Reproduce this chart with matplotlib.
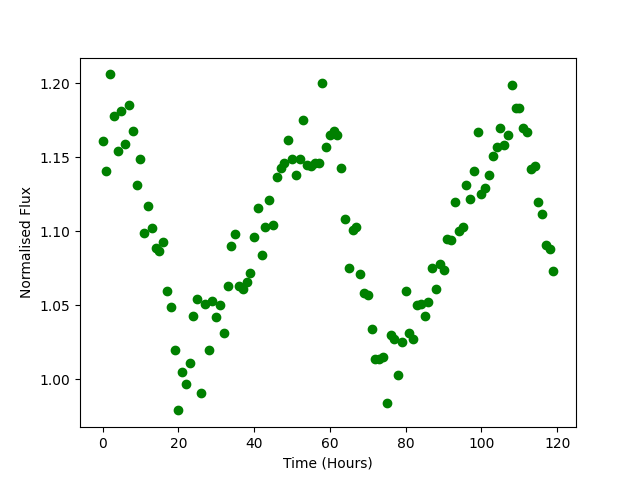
import matplotlib
matplotlib.use("Agg")
import matplotlib.pyplot as plt

# hourly time stamps
time_hours = [0, 1, 2, 3, 4, 5, 6, 7, 8, 9,
              10, 11, 12, 13, 14, 15, 16, 17, 18, 19,
              20, 21, 22, 23, 24, 25, 26, 27, 28, 29,
              30, 31, 32, 33, 34, 35, 36, 37, 38, 39,
              40, 41, 42, 43, 44, 45, 46, 47, 48, 49,
              50, 51, 52, 53, 54, 55, 56, 57, 58, 59,
              60, 61, 62, 63, 64, 65, 66, 67, 68, 69,
              70, 71, 72, 73, 74, 75, 76, 77, 78, 79,
              80, 81, 82, 83, 84, 85, 86, 87, 88, 89,
              90, 91, 92, 93, 94, 95, 96, 97, 98, 99,
              100, 101, 102, 103, 104, 105, 106, 107, 108, 109,
              110, 111, 112, 113, 114, 115, 116, 117, 118, 119]

# normalised flux
flux = [1.161, 1.141, 1.206, 1.178, 1.154, 1.181, 1.159, 1.185, 1.168, 1.131,
        1.149, 1.099, 1.117, 1.102, 1.089, 1.087, 1.093, 1.060, 1.049, 1.020,
        0.979, 1.005, 0.997, 1.011, 1.043, 1.054, 0.991, 1.051, 1.020, 1.053,
        1.042, 1.050, 1.031, 1.063, 1.090, 1.098, 1.063, 1.061, 1.066, 1.072,
        1.096, 1.116, 1.084, 1.103, 1.121, 1.104, 1.137, 1.143, 1.146, 1.162,
        1.149, 1.138, 1.149, 1.175, 1.145, 1.144, 1.146, 1.146, 1.200, 1.157,
        1.165, 1.168, 1.165, 1.143, 1.108, 1.075, 1.101, 1.103, 1.071, 1.058,
        1.057, 1.034, 1.014, 1.014, 1.015, 0.984, 1.030, 1.027, 1.003, 1.025,
        1.060, 1.031, 1.027, 1.050, 1.051, 1.043, 1.052, 1.075, 1.061, 1.078,
        1.074, 1.095, 1.094, 1.120, 1.100, 1.103, 1.131, 1.122, 1.141, 1.167,
        1.125, 1.129, 1.138, 1.151, 1.157, 1.170, 1.158, 1.165, 1.199, 1.183,
        1.183, 1.170, 1.167, 1.142, 1.144, 1.120, 1.112, 1.091, 1.088, 1.073]

fig = plt.figure(figsize=(6.4, 4.8), dpi=100)
plt.plot(time_hours, flux, 'o', color='green')
plt.xlabel("Time (Hours)")
plt.ylabel("Normalised Flux")
plt.savefig("out.png")
